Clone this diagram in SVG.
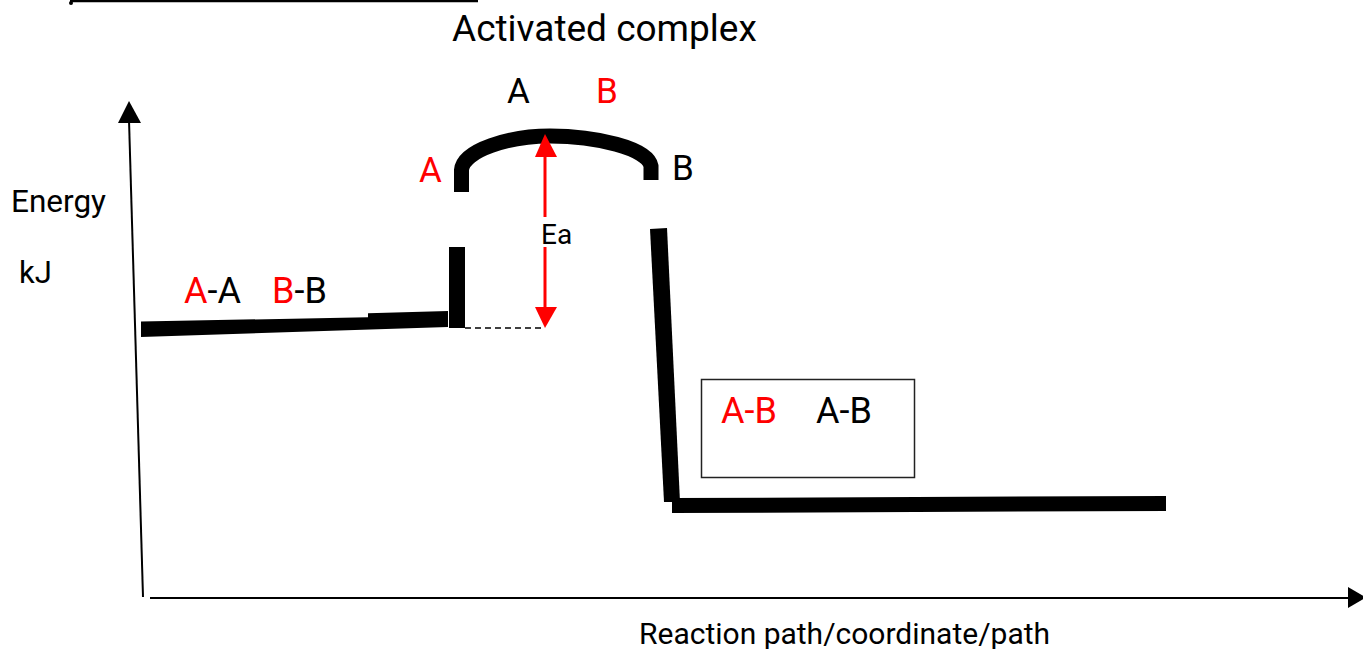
<svg xmlns="http://www.w3.org/2000/svg" width="1363" height="649" viewBox="0 0 1363 649">
<style>
text{font-family:Roboto,"Liberation Sans",sans-serif;fill:#000}
.r{fill:#ff0000}
.thick{fill:#000;stroke:none}
.axis{stroke:#000;stroke-width:2;fill:none}
</style>
<rect width="1363" height="649" fill="#fff"/>
<g id="top-line">
<line x1="70" y1="1" x2="478" y2="1" stroke="#000" stroke-width="2.5"/>
<circle cx="71" cy="3" r="2" fill="#000"/>
</g>
<g id="connectors">
<g id="y-axis">
<line class="axis" x1="143" y1="597" x2="129" y2="120"/>
<polygon points="129,101 118,123 141,123" fill="#000"/>
</g>
<g id="x-axis">
<line class="axis" x1="150" y1="598" x2="1350" y2="598"/>
<polygon points="1366,597.5 1348,587 1348,608" fill="#000"/>
</g>
<g id="energy-curve">
<polygon class="thick" points="141,321.5 368,317.3 368,313.3 448,311 448,327 141,337"/>
<rect class="thick" x="449" y="247" width="16" height="81"/>
<path d="M 461.5 192 V 170 C 463 150 510 136 550 136 C 595 136 648 148 651 166 V 180" fill="none" stroke="#000" stroke-width="15"/>
<polygon class="thick" points="650,229 667,228 680,502 664,502"/>
<polygon class="thick" points="672,498 1166,496 1166,511 672,513"/>
</g>
<g id="ea-arrow">
<line x1="465" y1="328" x2="545" y2="328" stroke="#000" stroke-width="1.5" stroke-dasharray="6,4"/>
<line x1="545" y1="155" x2="545" y2="217" stroke="#ff0000" stroke-width="3"/>
<line x1="545" y1="247" x2="545" y2="309" stroke="#ff0000" stroke-width="3"/>
<polygon points="545,134 535,157 557,157" fill="#ff0000"/>
<polygon points="545,328 535,307 557,307" fill="#ff0000"/>
</g>
</g>
<g id="labels">
<text x="452" y="41" font-size="37">Activated complex</text>
<text x="507" y="103" font-size="35">A</text>
<text x="596" y="103" font-size="35" class="r">B</text>
<text x="419" y="182" font-size="35" class="r">A</text>
<text x="672" y="180" font-size="35">B</text>
<text x="541" y="244" font-size="28">Ea</text>
<text x="11" y="212" font-size="31.5">Energy</text>
<text x="19" y="283" font-size="31">kJ</text>
<text x="184" y="303" font-size="36"><tspan class="r">A</tspan>-A</text>
<text x="272" y="303" font-size="36"><tspan class="r">B</tspan>-B</text>
<text x="639" y="644" font-size="30">Reaction path/coordinate/path</text>
</g>
<g id="product-box">
<rect x="701.5" y="379.5" width="213" height="98" fill="none" stroke="#222" stroke-width="1.5"/>
<text x="721" y="423" font-size="36" class="r">A-B</text>
<text x="816" y="423" font-size="36">A-B</text>
</g>
</svg>
